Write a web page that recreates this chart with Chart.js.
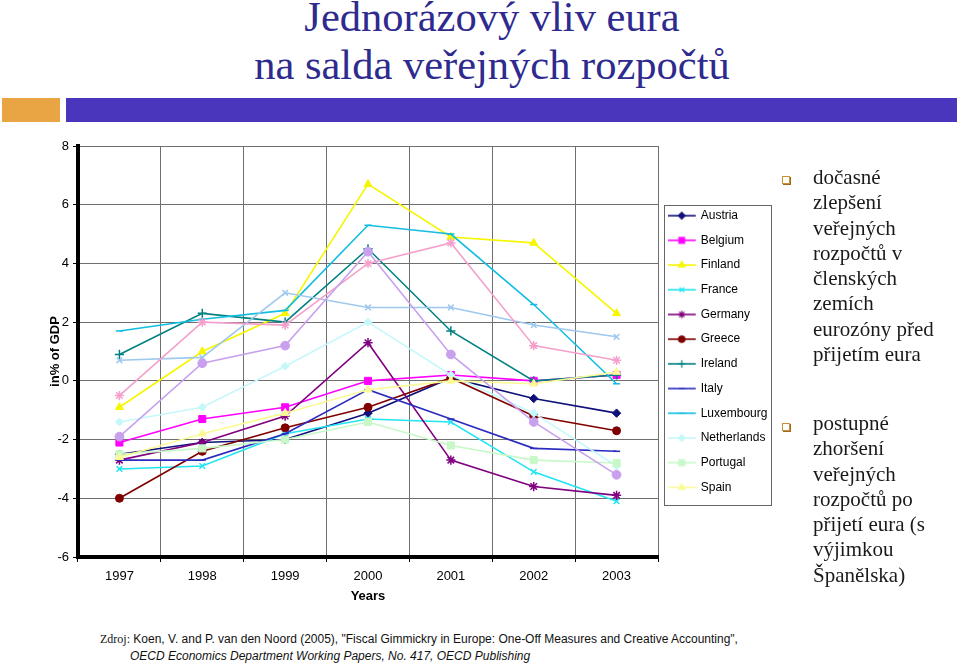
<!DOCTYPE html>
<html><head><meta charset="utf-8">
<script src="https://cdn.jsdelivr.net/npm/chart.js@4.4.1/dist/chart.umd.min.js"></script>
<style>
html,body{margin:0;padding:0;background:#fff;}
body{width:960px;height:665px;position:relative;overflow:hidden;font-family:'Liberation Sans',Arial,sans-serif;}
.title{position:absolute;left:12px;width:960px;text-align:center;font-family:'Liberation Serif','Times New Roman',serif;font-size:42.5px;line-height:42px;color:#2e2a8e;white-space:nowrap;}
.bar1{position:absolute;left:2px;top:98px;width:58px;height:24px;background:#e9a444;}
.bar2{position:absolute;left:66px;top:98px;width:891px;height:24px;background:#4a36bc;}
#wrap{position:absolute;left:0;top:130px;width:800px;height:480px;z-index:1;}
.bul{position:absolute;left:813px;font-family:'Liberation Serif','Times New Roman',serif;font-size:21px;line-height:25.3px;color:#1a1a1a;white-space:nowrap;z-index:2;}
.sq{position:absolute;left:782px;width:6px;height:6px;border:1px solid #c99035;box-shadow:1px 1px 0 #a06a1c;background:#fff;z-index:2;}
.foot{position:absolute;font-size:12px;color:#111;white-space:nowrap;}
</style></head><body>
<div class="title" style="top:-4px">Jednorázový vliv eura</div>
<div class="title" style="top:44px">na salda veřejných rozpočtů</div>
<div class="bar1"></div><div class="bar2"></div>
<div id="wrap"><canvas id="c" width="800" height="480"></canvas></div>
<div class="sq" style="top:176px"></div>
<div class="bul" style="top:165px">dočasné<br>zlepšení<br>veřejných<br>rozpočtů v<br>členských<br>zemích<br>eurozóny před<br>přijetím eura</div>
<div class="sq" style="top:423px"></div>
<div class="bul" style="top:411px">postupné<br>zhoršení<br>veřejných<br>rozpočtů po<br>přijetí eura (s<br>výjimkou<br>Španělska)</div>
<div class="foot" style="left:100px;top:632px"><span style="font-family:'Liberation Serif',serif;">Zdroj:</span> Koen, V. and P. van den Noord (2005), "Fiscal Gimmickry in Europe: One-Off Measures and Creative Accounting",</div>
<div class="foot" style="left:130px;top:649px;font-style:italic">OECD Economics Department Working Papers, No. 417, OECD Publishing</div>
<script>
const years = ['1997','1998','1999','2000','2001','2002','2003'];
const yTicks = [-6,-4,-2,0,2,4,6,8];
const austria     = [-2.5,-2.1,-2.0,-1.1, 0.1,-0.6,-1.1];
const belgium     = [-2.1,-1.3,-0.9, 0.0, 0.2, 0.0, 0.2];
const finland     = [-0.9, 1.0, 2.3, 6.7, 4.9, 4.7, 2.3];
const france      = [-3.0,-2.9,-1.8,-1.3,-1.4,-3.1,-4.1];
const germany     = [-2.7,-2.1,-1.2, 1.3,-2.7,-3.6,-3.9];
const greece      = [-4.0,-2.4,-1.6,-0.9, 0.1,-1.2,-1.7];
const ireland     = [ 0.9, 2.3, 2.0, 4.5, 1.7, 0.0, 0.2];
const italy       = [-2.7,-2.7,-1.8,-0.3,-1.3,-2.3,-2.4];
const luxembourg  = [ 1.7, 2.1, 2.4, 5.3, 5.0, 2.6,-0.1];
const netherlands = [-1.4,-0.9, 0.5, 2.0, 0.2,-1.1,-2.9];
const portugal    = [-2.5,-2.3,-2.0,-1.4,-2.2,-2.7,-2.8];
const spain       = [-2.6,-1.8,-1.1,-0.3, 0.0,-0.1, 0.3];
const series13    = [ 0.7, 0.8, 3.0, 2.5, 2.5, 1.9, 1.5];
const series14    = [-0.5, 2.0, 1.9, 4.0, 4.7, 1.2, 0.7];
const series15    = [-1.9, 0.6, 1.2, 4.4, 0.9,-1.4,-3.2];

const seriesNames = ['Austria','Belgium','Finland','France','Germany','Greece','Ireland','Italy','Luxembourg','Netherlands','Portugal','Spain','Series 13','Series 14','Series 15'];
const seriesValues = [austria,belgium,finland,france,germany,greece,ireland,italy,luxembourg,netherlands,portugal,spain,series13,series14,series15];
const seriesColors = ['#10107a','#ff00ff','#f6f600','#22e4f2','#800080','#800000','#008080','#2b2bbf','#12bde0','#c6f8fa','#c8f8c8','#fafa96','#9ec8ee','#f4a0cc','#c9a0ee'];
const seriesMarkers = ['rectRot','rect','triangle','crossRot','star','circle','cross','line','line','rectRot','rect','triangle','crossRot','star','circle'];
const markerSizes = [4.2,5,4.6,4,4.6,4,4.6,3.6,3.6,4,5,4.6,4,4.6,4.4];
const legendCount = 12;

const strokeOnly = s => ['crossRot','cross','star','line'].includes(s);

function makeIcon(color, style, r){
  const c = document.createElement('canvas'); c.width = 30; c.height = 12;
  const x = c.getContext('2d');
  x.strokeStyle = color; x.fillStyle = color; x.lineWidth = 1.6;
  x.beginPath(); x.moveTo(0,6); x.lineTo(28,6); x.stroke();
  x.lineWidth = 1.2;
  if (Chart.helpers && Chart.helpers.drawPoint) {
    Chart.helpers.drawPoint(x, {pointStyle: style, radius: r, borderWidth: 1.2, rotation: 0}, 14, 6);
  }
  return c;
}
const legendIcons = seriesNames.map((n,i)=>makeIcon(seriesColors[i], seriesMarkers[i], markerSizes[i]*0.8));

const datasets = seriesNames.map((name,i)=>({
  label: name,
  data: seriesValues[i],
  borderColor: seriesColors[i],
  backgroundColor: seriesColors[i],
  borderWidth: 1.6,
  tension: 0,
  pointStyle: seriesMarkers[i],
  pointRadius: markerSizes[i],
  pointHoverRadius: markerSizes[i],
  pointBackgroundColor: seriesColors[i],
  pointBorderColor: seriesColors[i],
  pointBorderWidth: strokeOnly(seriesMarkers[i]) ? 1.5 : 1,
  order: seriesNames.length - i
}));

const legendBorder = {
  id: 'legendBorder',
  afterDraw(chart){
    const hb = chart.legend && chart.legend.legendHitBoxes;
    if (!hb || !hb.length) return;
    const ctx = chart.ctx;
    const l = Math.min(...hb.map(h=>h.left)) - 7;
    const r = Math.max(...hb.map(h=>h.left + h.width)) + 3;
    const t = hb[0].top - 5;
    const last = hb[hb.length-1];
    const b = last.top + last.height + 11;
    ctx.save(); ctx.strokeStyle = '#666'; ctx.lineWidth = 1;
    ctx.strokeRect(Math.round(l)+0.5, Math.round(t)+0.5, Math.round(r-l), Math.round(b-t));
    ctx.restore();
  }
};

const font = {family: "'Liberation Sans', Arial, sans-serif", size: 13};
const chart = new Chart(document.getElementById('c'), {
  type: 'line',
  data: {labels: years, datasets},
  plugins: [legendBorder],
  options: {
    responsive: false, animation: false,
    layout: {padding: {left: 44, top: 9, right: 20, bottom: 5}},
    plugins: {
      tooltip: {enabled: false},
      title: {display: false},
      legend: {
        position: 'right', fullSize: false, align: 'center',
        labels: {
          usePointStyle: true, pointStyleWidth: 24, padding: 12.7,
          color: '#000', font: {family: font.family, size: 12},
          generateLabels(ch){
            return ch.data.datasets.slice(0, legendCount).map((ds,i)=>({
              text: ds.label, pointStyle: legendIcons[i], fillStyle: ds.borderColor,
              strokeStyle: ds.borderColor, lineWidth: 0, hidden: false, datasetIndex: i, fontColor: '#000'
            }));
          }
        }
      }
    },
    scales: {
      x: {
        offset: true,
        grid: {offset: true, color: '#6f6f6f', lineWidth: 1, tickColor: '#000', tickLength: 5},
        border: {color: '#000', width: 4},
        ticks: {color: '#000', font, padding: 7},
        title: {display: true, text: 'Years', color: '#000', font: {family: font.family, size: 13, weight: 'bold'}, padding: {top: -3, bottom: 4}}
      },
      y: {
        min: -6, max: 8,
        afterBuildTicks(s){ s.ticks = yTicks.map(v=>({value: v})); },
        afterFit(s){ s.width = 34; },
        grid: {color: '#6f6f6f', lineWidth: 1, tickColor: '#000', tickLength: 5},
        border: {color: '#000', width: 4},
        ticks: {color: '#000', font, padding: 4},
        title: {display: true, text: 'in% of GDP', color: '#000', font: {family: font.family, size: 13, weight: 'bold'}, padding: {top: 4, bottom: 0}}
      }
    }
  }
});
const target = {left: 78, top: 16, right: 658, bottom: 427};
for (let k = 0; k < 5; k++) {
  const a = chart.chartArea, p = chart.options.layout.padding;
  const dl = target.left - a.left, dt = target.top - a.top, dr = a.right - target.right, db = a.bottom - target.bottom;
  if (Math.abs(dl) + Math.abs(dt) + Math.abs(dr) + Math.abs(db) < 0.3) break;
  p.left += dl; p.top += dt; p.right += dr; p.bottom += db;
  chart.update('none');
}
</script>
</body></html>
